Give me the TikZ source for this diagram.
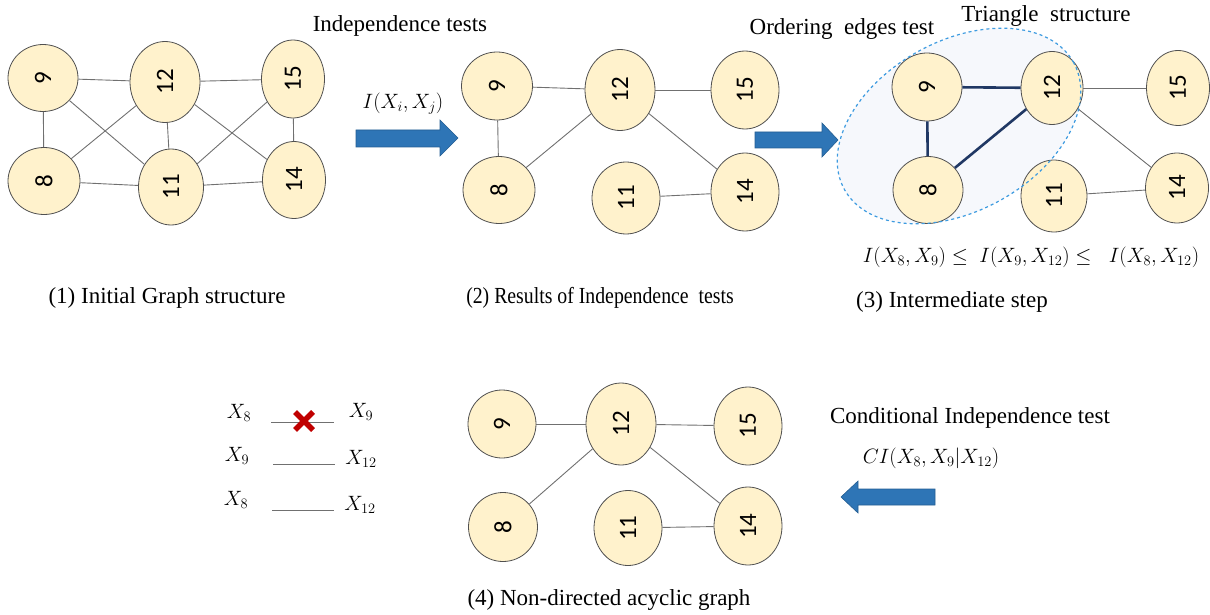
\documentclass[tikz,border=0pt]{standalone}
\usepackage{fontspec}
\setmainfont{Liberation Serif}
\newfontfamily\numfont{Carlito}
\usepackage{tikz}
\usetikzlibrary{shapes.geometric}

\definecolor{nodefill}{HTML}{FFF2CC}
\definecolor{nodeline}{HTML}{505050}
\definecolor{edgegray}{HTML}{707070}
\definecolor{navyedge}{HTML}{203864}
\definecolor{arrowblue}{HTML}{2E75B6}
\definecolor{dashblue}{HTML}{3D9BE0}
\definecolor{hullfill}{HTML}{F6F8FC}
\definecolor{crossred}{HTML}{C00000}

\tikzset{
  vert/.style={ellipse, draw=nodeline, fill=nodefill, line width=0.8pt, inner sep=0pt,
    font=\numfont\fontsize{25}{25}\selectfont},
  edge/.style={draw=edgegray, line width=0.9pt},
  triedge/.style={draw=navyedge, line width=2.6pt},
  blockarrow/.style={fill=arrowblue, draw=arrowblue!80!black, line width=0.6pt},
  txt/.style={font=\fontsize{23}{26}\selectfont, inner sep=0pt},
  mth/.style={font=\fontsize{22}{24}\selectfont, inner sep=0pt},
}

\begin{document}
\begin{tikzpicture}[x=1pt, y=-1pt]
\useasboundingbox (0,0) rectangle (1210,615);

% (1) initial graph
\node[vert, minimum width=70, minimum height=67] (a9) at (43,78) {\rotatebox{90}{9}};
\node[vert, minimum width=70, minimum height=81] (a12) at (165,82) {\rotatebox{90}{12}};
\node[vert, minimum width=63, minimum height=78] (a15) at (293,79) {\rotatebox{90}{15}};
\node[vert, minimum width=72, minimum height=67] (a8) at (44,181) {\rotatebox{90}{8}};
\node[vert, minimum width=65, minimum height=76] (a11) at (171,187) {\rotatebox{90}{11}};
\node[vert, minimum width=63, minimum height=77] (a14) at (294,180) {\rotatebox{90}{14}};
\draw[edge] (a9) -- (a12);
\draw[edge] (a12) -- (a15);
\draw[edge] (a9) -- (a8);
\draw[edge] (a9) -- (a11);
\draw[edge] (a8) -- (a12);
\draw[edge] (a12) -- (a11);
\draw[edge] (a12) -- (a14);
\draw[edge] (a11) -- (a15);
\draw[edge] (a15) -- (a14);
\draw[edge] (a8) -- (a11);
\draw[edge] (a11) -- (a14);
\node[txt] (cap1) at (167,298) {(1) Initial Graph structure};

% arrow 1 -> 2
\fill[blockarrow] (356,130) -- (440,130) -- (440,120) -- (458,138) -- (440,156) -- (440,147) -- (356,147) -- cycle;
\node[txt] (indep) at (400,26) {Independence tests};
\node[mth] (iij) at (403,104) {$I(X_i,X_j)$};

% (2) after independence tests
\node[vert, minimum width=71, minimum height=68] (b9) at (497,86) {\rotatebox{90}{9}};
\node[vert, minimum width=70, minimum height=81] (b12) at (620,90) {\rotatebox{90}{12}};
\node[vert, minimum width=68, minimum height=78] (b15) at (745,90) {\rotatebox{90}{15}};
\node[vert, minimum width=72, minimum height=67] (b8) at (499,190) {\rotatebox{90}{8}};
\node[vert, minimum width=68, minimum height=72] (b11) at (626,198) {\rotatebox{90}{11}};
\node[vert, minimum width=68, minimum height=78] (b14) at (745,192) {\rotatebox{90}{14}};
\draw[edge] (b9) -- (b12);
\draw[edge] (b12) -- (b15);
\draw[edge] (b9) -- (b8);
\draw[edge] (b8) -- (b12);
\draw[edge] (b12) -- (b14);
\draw[edge] (b11) -- (b14);
\node[txt] (cap2) at (600,298) {\scalebox{0.86}[1]{(2) Results of Independence\ \ tests}};

% arrow 2 -> 3
\fill[blockarrow] (755,132) -- (822,132) -- (822,123) -- (838,140) -- (822,157) -- (822,148) -- (755,148) -- cycle;
\node[txt] (order) at (842,29) {Ordering\ \ edges test};
\node[txt] (triangle) at (1046,16) {Triangle\ \ structure};

% (3) intermediate step
\fill[hullfill, rotate around={29:(959,126)}] (959,126) ellipse [x radius=131pt, y radius=85pt];
\node[vert, minimum width=70, minimum height=68] (c9) at (927,87) {\rotatebox{90}{9}};
\node[vert, minimum width=62, minimum height=73] (c12) at (1052,88) {\rotatebox{90}{12}};
\node[vert, minimum width=63, minimum height=75] (c15) at (1178,88) {\rotatebox{90}{15}};
\node[vert, minimum width=70, minimum height=67] (c8) at (928,190) {\rotatebox{90}{8}};
\node[vert, minimum width=66, minimum height=72] (c11) at (1054,196) {\rotatebox{90}{11}};
\node[vert, minimum width=63, minimum height=70] (c14) at (1177,188) {\rotatebox{90}{14}};
\draw[triedge] (c9) -- (c12);
\draw[triedge] (c9) -- (c8);
\draw[triedge] (c8) -- (c12);
\draw[edge] (c12) -- (c15);
\draw[edge] (c12) -- (c14);
\draw[edge] (c11) -- (c14);
\draw[dashblue, dashed, line width=1.2pt, rotate around={29:(959,126)}] (959,126) ellipse [x radius=131pt, y radius=85pt];
\node[mth] (order3) at (1031,257) {$I(X_8,X_9)\le\; I(X_9,X_{12})\le\;\; I(X_8,X_{12})$};
\node[txt] (cap3) at (952,302) {(3) Intermediate step};

% (4) final graph
\node[vert, minimum width=68, minimum height=68] (d9) at (502,424) {\rotatebox{90}{9}};
\node[vert, minimum width=70, minimum height=82] (d12) at (621,424) {\rotatebox{90}{12}};
\node[vert, minimum width=68, minimum height=78] (d15) at (748,426) {\rotatebox{90}{15}};
\node[vert, minimum width=69, minimum height=69] (d8) at (503,527) {\rotatebox{90}{8}};
\node[vert, minimum width=68, minimum height=75] (d11) at (628,528) {\rotatebox{90}{11}};
\node[vert, minimum width=68, minimum height=78] (d14) at (748,526) {\rotatebox{90}{14}};
\draw[edge] (d9) -- (d12);
\draw[edge] (d12) -- (d15);
\draw[edge] (d8) -- (d12);
\draw[edge] (d12) -- (d14);
\draw[edge] (d11) -- (d14);
\node[txt] (cap4) at (609,600) {(4) Non-directed acyclic graph};

% conditional independence test
\node[txt] (cond) at (970,418) {Conditional Independence test};
\node[mth] (ci) at (931,458) {$CI(X_8,X_9|X_{12})$};
\fill[blockarrow] (935,489) -- (858,489) -- (858,481) -- (841,497) -- (858,513) -- (858,505) -- (935,505) -- cycle;

% removed edge list
\node[mth] (l1a) at (239,413) {$X_8$};
\node[mth] (l1b) at (361,412) {$X_9$};
\node[mth] (l2a) at (237,456) {$X_9$};
\node[mth] (l2b) at (361,459) {$X_{12}$};
\node[mth] (l3a) at (236,500) {$X_8$};
\node[mth] (l3b) at (360,505) {$X_{12}$};
\coordinate (r1a) at (271,422);
\coordinate (r1b) at (334,422);
\coordinate (r2a) at (273,464);
\coordinate (r2b) at (335,464);
\coordinate (r3a) at (272,510);
\coordinate (r3b) at (334,510);
\draw[edge] (r1a) -- (r1b);
\draw[edge] (r2a) -- (r2b);
\draw[edge] (r3a) -- (r3b);
\coordinate (cut) at (304,421);
\draw[crossred, line width=5.5pt] ([shift={(-9,-9)}]cut) -- ([shift={(9,9)}]cut);
\draw[crossred, line width=5.5pt] ([shift={(-9,9)}]cut) -- ([shift={(9,-9)}]cut);
\end{tikzpicture}
\end{document}
